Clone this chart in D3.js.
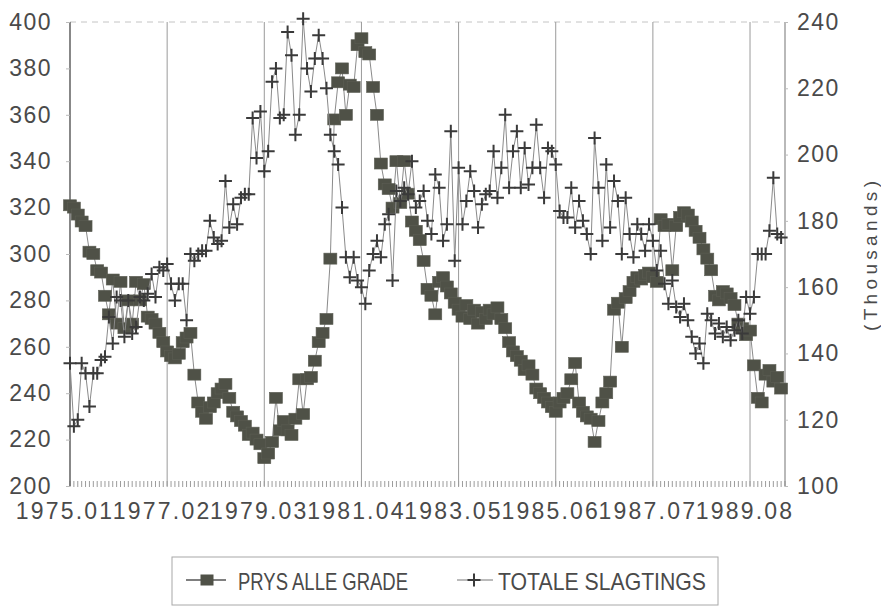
<!DOCTYPE html>
<html>
<head>
<meta charset="utf-8">
<script src="https://cdn.jsdelivr.net/npm/d3@7"></script>
<style>
  html, body { margin: 0; padding: 0; background: #fff; }
  svg { display: block; }
  text { font-family: "Liberation Sans", Arial, sans-serif; fill: #4a4a4a; }
</style>
</head>
<body>
<svg id="chart" width="881" height="607"></svg>
<script>
// ---------- DATA ----------
const startYear = 1975;
const nMonths = 184; // 1975.01 .. 1990.04
const categories = [];
for (let i = 0; i < nMonths; i++) {
  const y = startYear + Math.floor(i / 12);
  const m = (i % 12) + 1;
  categories.push(y + "." + (m < 10 ? "0" + m : m));
}
const xTickLabels = ["1975.01","1977.02","1979.03","1981.04","1983.05","1985.06","1987.07","1989.08"];
const leftTicks = [200,220,240,260,280,300,320,340,360,380,400];
const rightTicks = [100,120,140,160,180,200,220,240];

// PRYS ALLE GRADE (left axis)
const prys = [
321,320,317,314,312,301,300,293,292,282,274,289,270,288,268,280,270,288,280,287,
273,272,270,266,262,258,256,255,257,262,264,266,248,236,232,229,234,236,240,242,
244,238,232,230,228,226,222,223,220,218,212,214,219,238,224,228,224,222,229,246,
231,246,247,254,262,266,272,298,358,374,380,360,373,372,390,393,387,386,372,360,
339,330,328,320,340,322,340,326,314,310,306,297,285,282,274,288,290,286,283,279,
276,273,278,272,276,270,275,272,276,274,277,272,268,262,258,256,254,250,252,248,
242,240,238,236,234,232,236,238,240,246,253,236,232,230,229,219,228,236,240,245,
276,279,260,281,284,288,290,289,291,292,290,288,315,312,313,293,312,316,318,317,
314,310,307,302,298,293,282,280,284,283,281,278,270,268,265,267,252,238,236,248,
250,245,247,242
];

// TOTALE SLAGTINGS (right axis, thousands)
const slagtings = [
137,118,120,137,134,124,134,134,138,139,151,143,157,156,145,156,146,148,157,156,
158,164,157,166,165,167,161,156,161,161,150,170,168,170,171,171,180,175,173,174,
192,178,185,179,187,188,188,211,199,213,195,201,222,226,211,212,237,230,206,212,
241,226,219,229,236,229,220,206,201,197,184,169,163,169,162,160,155,165,170,174,
169,179,182,162,189,186,190,188,198,184,186,189,180,176,194,190,174,179,207,168,
196,179,186,195,189,178,185,188,189,201,187,196,212,190,201,207,190,202,191,196,
209,196,187,202,201,197,183,181,181,190,178,186,180,176,170,205,190,174,197,178,
192,186,170,187,176,169,179,176,171,179,174,165,171,161,155,162,154,151,155,150,
145,140,143,137,152,150,146,149,145,148,144,147,150,146,157,152,157,170,170,170,
177,193,176,175
];

const seriesNames = ["PRYS ALLE GRADE", "TOTALE SLAGTINGS"];

// ---------- LAYOUT ----------
const svg = d3.select("#chart");
const L = 70, R = 785, T = 22, B = 486;

const x = d3.scaleLinear().domain([0, nMonths]).range([L, R]);
const yL = d3.scaleLinear().domain([200, 400]).range([B, T]);
const yR = d3.scaleLinear().domain([100, 240]).range([B, T]);

const boxColor = "#4f5147";
const plusColor = "#3a3a3a";
const lineColor = "#8a8a8a";

// top border (faint dashed)
svg.append("line").attr("x1", L).attr("x2", R).attr("y1", T).attr("y2", T)
  .attr("stroke", "#c4c4c4").attr("stroke-width", 1).attr("stroke-dasharray", "6,5");

// vertical gridlines at labelled months
const tickIdx = xTickLabels.map(l => categories.indexOf(l));
svg.append("g").selectAll("line").data(tickIdx.slice(1)).join("line")
  .attr("x1", d => x(d)).attr("x2", d => x(d))
  .attr("y1", T).attr("y2", B)
  .attr("stroke", "#9a9a9a").attr("stroke-width", 1);

// bottom minor ticks (monthly)
svg.append("g").selectAll("line").data(d3.range(0, nMonths + 1)).join("line")
  .attr("x1", d => x(d)).attr("x2", d => x(d))
  .attr("y1", B - 5).attr("y2", B + 1)
  .attr("stroke", "#9c9c9c").attr("stroke-width", 1);

// left and right axis lines
svg.append("line").attr("x1", L).attr("x2", L).attr("y1", T).attr("y2", B)
  .attr("stroke", "#6a6a6a").attr("stroke-width", 1.6);
svg.append("line").attr("x1", R).attr("x2", R).attr("y1", T).attr("y2", B)
  .attr("stroke", "#8a8a8a").attr("stroke-width", 1.2);

// left axis
const gL = svg.append("g").attr("transform", `translate(${L},0)`)
  .call(d3.axisLeft(yL).tickValues(leftTicks).tickSize(4).tickPadding(14).tickFormat(d3.format("d")));
gL.select(".domain").remove();
gL.selectAll(".tick line").attr("stroke", "#bbbbbb");
gL.selectAll(".tick text").attr("font-size", 23).attr("letter-spacing", "1.5px")
  .attr("fill", "#4a4a4a").attr("font-family", "Liberation Sans, Arial, sans-serif");

// right axis
const gR = svg.append("g").attr("transform", `translate(${R},0)`)
  .call(d3.axisRight(yR).tickValues(rightTicks).tickSize(3).tickPadding(9).tickFormat(d3.format("d")));
gR.select(".domain").remove();
gR.selectAll(".tick line").attr("stroke", "#bbbbbb");
gR.selectAll(".tick text").attr("font-size", 23).attr("letter-spacing", "1.5px")
  .attr("fill", "#4a4a4a").attr("font-family", "Liberation Sans, Arial, sans-serif");

// x labels
svg.append("g").selectAll("text").data(xTickLabels).join("text")
  .attr("x", d => x(categories.indexOf(d)) - 5)
  .attr("y", B + 33)
  .attr("text-anchor", "middle")
  .attr("font-size", 23)
  .attr("letter-spacing", "2.2px")
  .text(d => d);

// right axis title
svg.append("text")
  .attr("transform", `translate(870,256) rotate(-90)`)
  .attr("text-anchor", "middle")
  .attr("dominant-baseline", "central")
  .attr("font-size", 19)
  .attr("textLength", 150).attr("lengthAdjust", "spacing")
  .text("(Thousands)");

// ---------- SERIES ----------
const idx = d3.range(nMonths);
const lineP = d3.line().x(i => x(i)).y(i => yL(prys[i]));
const lineS = d3.line().x(i => x(i)).y(i => yR(slagtings[i]));

svg.append("path").datum(idx).attr("d", lineP)
  .attr("fill", "none").attr("stroke", lineColor).attr("stroke-width", 1);

const bw = 13, bh = 11;
svg.append("g").selectAll("rect").data(idx).join("rect")
  .attr("x", i => x(i) - bw / 2).attr("y", i => yL(prys[i]) - bh / 2)
  .attr("width", bw).attr("height", bh)
  .attr("fill", boxColor).attr("stroke", "#5c5e54").attr("stroke-width", 0.6);

svg.append("path").datum(idx).attr("d", lineS)
  .attr("fill", "none").attr("stroke", lineColor).attr("stroke-width", 1);

const ps = 6.5;
svg.append("g").selectAll("path").data(idx).join("path")
  .attr("d", i => {
    const cx = x(i), cy = yR(slagtings[i]);
    return `M${cx - ps},${cy}H${cx + ps}M${cx},${cy - ps}V${cy + ps}`;
  })
  .attr("stroke", plusColor).attr("stroke-width", 2).attr("fill", "none");

// ---------- LEGEND ----------
const lg = svg.append("g");
lg.append("rect").attr("x", 172).attr("y", 557).attr("width", 546).attr("height", 48)
  .attr("fill", "none").attr("stroke", "#a8a8a8").attr("stroke-width", 1);
const ly = 580;
lg.append("line").attr("x1", 186).attr("x2", 226).attr("y1", ly).attr("y2", ly)
  .attr("stroke", "#555").attr("stroke-width", 1.5);
lg.append("rect").attr("x", 207 - bw / 2).attr("y", ly - bh / 2).attr("width", bw).attr("height", bh)
  .attr("fill", boxColor);
lg.append("text").attr("x", 238).attr("y", ly + 1).attr("dominant-baseline", "central")
  .attr("font-size", 24).attr("textLength", 170).attr("lengthAdjust", "spacingAndGlyphs")
  .text(seriesNames[0]);
lg.append("line").attr("x1", 457).attr("x2", 493).attr("y1", ly).attr("y2", ly)
  .attr("stroke", "#777").attr("stroke-width", 1);
lg.append("path").attr("d", `M${474 - ps},${ly}H${474 + ps}M474,${ly - ps}V${ly + ps}`)
  .attr("stroke", plusColor).attr("stroke-width", 2);
lg.append("text").attr("x", 498).attr("y", ly + 1).attr("dominant-baseline", "central")
  .attr("font-size", 24).attr("textLength", 208).attr("lengthAdjust", "spacingAndGlyphs")
  .text(seriesNames[1]);
</script>
</body>
</html>
